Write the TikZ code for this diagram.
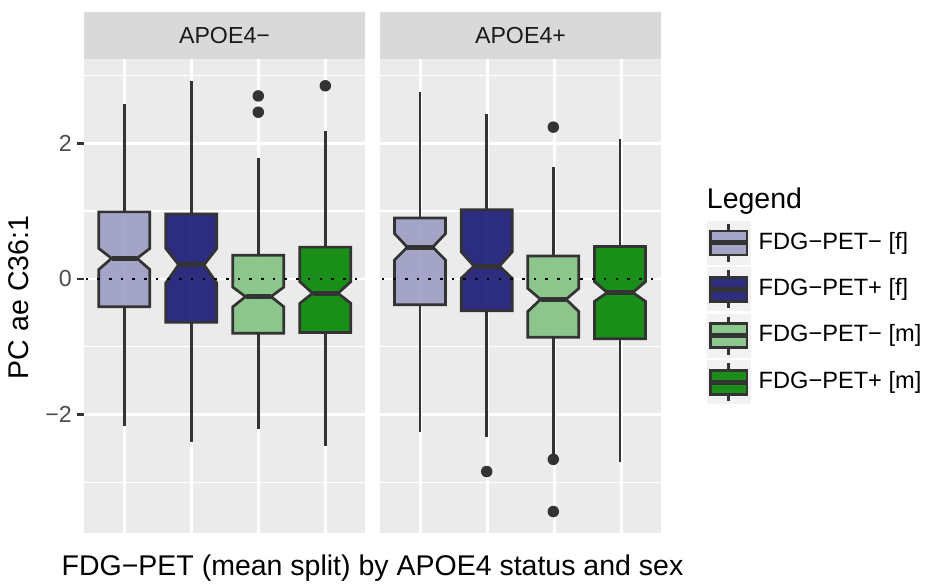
\documentclass[tikz,border=0pt]{standalone}
\usepackage{fontspec}
\setmainfont{Liberation Sans}
\usepackage{tikz}
\usetikzlibrary{positioning,calc}

\definecolor{panelgray}{HTML}{EBEBEB}
\definecolor{stripgray}{HTML}{D9D9D9}
\definecolor{keygray}{HTML}{F2F2F2}
\definecolor{gray20}{HTML}{333333}
\definecolor{gray30}{HTML}{4D4D4D}
\definecolor{gray10}{HTML}{1A1A1A}
\definecolor{fdgnegf}{RGB}{157,157,195}
\definecolor{fdgposf}{RGB}{25,25,116}
\definecolor{fdgnegm}{RGB}{131,195,131}
\definecolor{fdgposm}{RGB}{3,133,3}

\newcommand{\smallfont}{\fontsize{23.2}{27}\selectfont}
\newcommand{\legfont}{\fontsize{23.6}{28}\selectfont}
\newcommand{\bigfont}{\fontsize{28.5}{34}\selectfont}

\begin{document}
\begin{tikzpicture}[
    x=1pt, y=1pt,
    panel/.style={fill=panelgray, minimum width=281pt, minimum height=474pt, inner sep=0pt, outer sep=0pt},
    strip/.style={fill=stripgray, minimum width=281pt, minimum height=47pt, inner sep=0pt, outer sep=0pt, font=\smallfont, text=gray10},
    gridmajor/.style={white, line width=2.8pt},
    gridminor/.style={white, line width=1.4pt},
    whisker/.style={gray20, line width=2.6pt},
    boxline/.style={draw=gray20, line width=2.7pt, fill opacity=0.9},
    median/.style={gray20, line width=5pt},
    outlier/.style={circle, fill=gray20, minimum size=11.5pt, inner sep=0pt},
    zeroline/.style={black, line width=2.6pt, dash pattern=on 2.6pt off 9.1pt, dash phase=10.2pt},
    tick/.style={gray20, line width=2.6pt},
    ticklabel/.style={font=\smallfont, text=gray30, inner sep=0pt, anchor=east},
    keybg/.style={fill=keygray, minimum size=44pt, inner sep=0pt},
    legtext/.style={font=\legfont, inner sep=0pt},
    title/.style={font=\bigfont, inner sep=0pt}
]

    \useasboundingbox (0,0) rectangle (925,583);

    % facets
    \node [strip] (strip1) at (224.5,547.5) {APOE4−};
    \node [strip, right=15pt of strip1] (strip2) {APOE4+};
    \node [panel, below=0pt of strip1] (panel1) {};
    \node [panel, below=0pt of strip2] (panel2) {};

    \begin{scope}[yshift=304pt, yscale=67.8]

    % grid
    \foreach \p in {84,380} {
        \foreach \v in {-3,-1,1,3}
            \draw [gridminor] (\p,\v) -- ++(281,0);
        \foreach \v in {-2,0,2}
            \draw [gridmajor] (\p,\v) -- ++(281,0);
        \foreach \c in {40.2,107.2,174.2,241.2}
            \draw [gridmajor] ({\p+\c},-3.746) -- ({\p+\c},3.245);
    }

    % notched boxes
    \foreach \x/\col/\wlo/\qlo/\nlo/\med/\nhi/\qhi/\whi in {
        124.3/fdgnegf/-2.17/-0.41/0.14/0.305/0.45/0.99/2.58,
        191.3/fdgposf/-2.40/-0.64/-0.06/0.21/0.45/0.96/2.92,
        258.3/fdgnegm/-2.21/-0.80/-0.41/-0.26/-0.12/0.35/1.78,
        325.3/fdgposm/-2.47/-0.79/-0.36/-0.21/-0.04/0.47/2.18,
        420.0/fdgnegf/-2.25/-0.38/0.28/0.47/0.67/0.90/2.76,
        486.7/fdgposf/-2.33/-0.47/0.01/0.19/0.40/1.02/2.43,
        553.3/fdgnegm/-2.60/-0.86/-0.48/-0.30/-0.14/0.34/1.65,
        620.0/fdgposm/-2.70/-0.88/-0.33/-0.20/-0.04/0.48/2.06} {
        \draw [whisker] (\x,\qhi) -- (\x,\whi);
        \draw [whisker] (\x,\qlo) -- (\x,\wlo);
        \draw [boxline, fill=\col] (\x-25.5,\qlo) -- (\x-25.5,\nlo) -- (\x-12.75,\med)
            -- (\x-25.5,\nhi) -- (\x-25.5,\qhi) -- (\x+25.5,\qhi) -- (\x+25.5,\nhi)
            -- (\x+12.75,\med) -- (\x+25.5,\nlo) -- (\x+25.5,\qlo) -- cycle;
        \draw [median] (\x-12.75,\med) -- (\x+12.75,\med);
    }

    % outliers
    \node [outlier] (out1) at (258.3,2.70) {};
    \node [outlier] (out2) at (258.3,2.46) {};
    \node [outlier] (out3) at (325.3,2.85) {};
    \node [outlier] (out4) at (486.7,-2.84) {};
    \node [outlier] (out5) at (553.3,2.24) {};
    \node [outlier] (out6) at (553.3,-2.66) {};
    \node [outlier] (out7) at (553.3,-3.43) {};

    % zero reference
    \draw [zeroline] (84,0) -- ++(281,0);
    \draw [zeroline] (380,0) -- ++(281,0);

    % y axis
    \foreach \v/\lab in {2/2, 0/0, -2/−2} {
        \draw [tick] (76.8,\v) -- (84,\v);
        \node [ticklabel] (tick\v) at (72,\v) {\lab};
    }

    \end{scope}

    \node [title, rotate=90] (ytitle) at (19,285.5) {PC ae C36:1};
    \node [title, anchor=base] (xtitle) at (372.5,8) {FDG−PET (mean split) by APOE4 status and sex};

    % legend
    \node [title, anchor=base west] (legtitle) at (706.7,374) {Legend};
    \node [keybg] (key1) at (728.7,340) {};
    \node [keybg, below=2pt of key1] (key2) {};
    \node [keybg, below=2pt of key2] (key3) {};
    \node [keybg, below=2pt of key3] (key4) {};

    \foreach \k/\col in {key1/fdgnegf, key2/fdgposf, key3/fdgnegm, key4/fdgposm} {
        \draw [whisker] ($(\k.center)+(0,12)$) -- ($(\k.center)+(0,19)$);
        \draw [whisker] ($(\k.center)-(0,12)$) -- ($(\k.center)-(0,19)$);
        \draw [boxline, fill=\col] ($(\k.center)+(-18.3,-12)$) rectangle ($(\k.center)+(18.3,12)$);
        \draw [median] ($(\k.center)+(-18.3,0)$) -- ($(\k.center)+(18.3,0)$);
    }

    \node [legtext, right=7.6pt of key1] (lab1) {FDG−PET− [f]};
    \node [legtext, right=7.6pt of key2] (lab2) {FDG−PET+ [f]};
    \node [legtext, right=7.6pt of key3] (lab3) {FDG−PET− [m]};
    \node [legtext, right=7.6pt of key4] (lab4) {FDG−PET+ [m]};

\end{tikzpicture}
\end{document}
